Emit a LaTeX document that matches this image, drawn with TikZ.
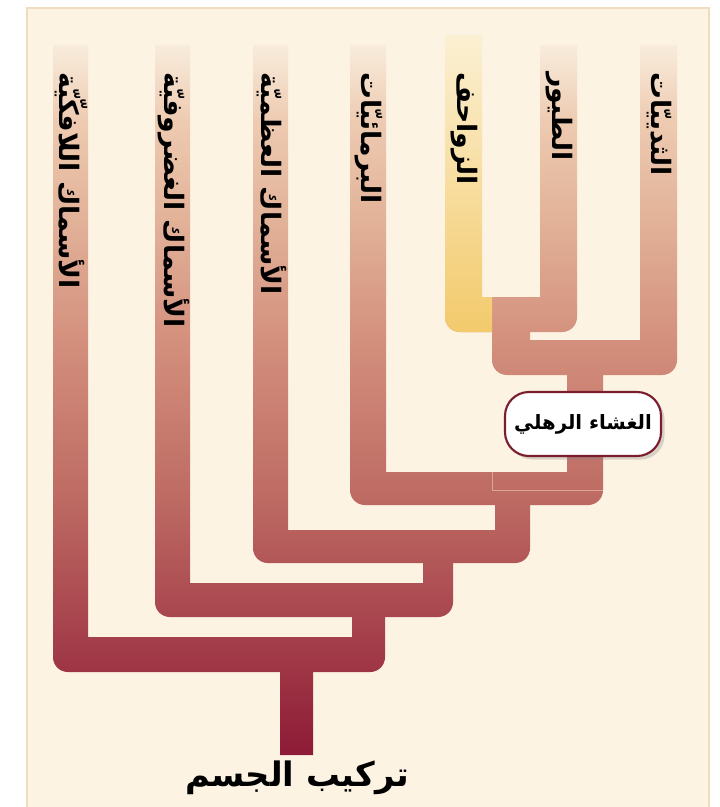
\documentclass[tikz,border=0pt]{standalone}
\usepackage{fontspec}
\newfontfamily\arabicfont[Script=Arabic]{DejaVu Sans}
\TeXXeTstate=1
\usetikzlibrary{shadows}

\definecolor{paper}{HTML}{FCF3E3}
\definecolor{paperrim}{HTML}{EFDDBE}
\definecolor{tipcol}{HTML}{F8ECDC}
\definecolor{tancol}{HTML}{EDCAB0}
\definecolor{sandcol}{HTML}{E4B79D}
\definecolor{rosecol}{HTML}{D28D7B}
\definecolor{brickcol}{HTML}{BD6A63}
\definecolor{wine}{HTML}{A8454E}
\definecolor{rootcol}{HTML}{8D1A36}
\definecolor{rim}{HTML}{7A1E2E}
\definecolor{faintcol}{HTML}{DCA598}
\definecolor{reptop}{HTML}{FBF0D3}
\definecolor{repmid}{HTML}{F7D98A}
\definecolor{repbot}{HTML}{F3CA6C}

\pgfdeclareverticalshading{treeshade}{100bp}{%
  color(0bp)=(rootcol); color(25bp)=(rootcol); color(34.5bp)=(wine);
  color(43bp)=(brickcol); color(53.5bp)=(rosecol); color(64bp)=(sandcol);
  color(69.5bp)=(tancol); color(75bp)=(tipcol); color(100bp)=(tipcol)}

\begin{document}
\begin{tikzpicture}[x=0.025cm,y=-0.025cm,
  lbl/.style={anchor=west,rotate=-90,inner sep=0pt,
    font=\arabicfont\bfseries\fontsize{19}{19}\selectfont},
  membrane/.style={draw=rim,line width=1.5pt,fill=white,rounded corners=0.6cm,
    minimum width=3.9cm,minimum height=1.6cm,inner sep=2pt,
    font=\arabicfont\bfseries\fontsize{14}{14}\selectfont,
    drop shadow={shadow xshift=2.5pt,shadow yshift=-2.5pt,opacity=0.3}},
  title/.style={inner sep=0pt,font=\arabicfont\bfseries\fontsize{24}{24}\selectfont}]
  \useasboundingbox (0,0) rectangle (719,807);
  \fill[white] (0,0) rectangle (719,807);
  \fill[paper,draw=paperrim,line width=2pt] (27,8) rectangle (709,812);

  % the tree, one shaded path
  \shade[shading=treeshade]
    (53,45) rectangle (88,655) (155,45) rectangle (190,600)
    (253,45) rectangle (288,548) (350,45) rectangle (386,490)
    (540,45) rectangle (577,315) (640,45) rectangle (677,358)
    (492,310) rectangle (530,358) (567,360) rectangle (603,490)
    (495,490) rectangle (530,548) (423,548) rectangle (453,600)
    (352,600) rectangle (385,655) (280,655) rectangle (313,755)
    {[rounded corners=0.37cm]
      (445,297) rectangle (577,332) (492,340) rectangle (677,375)
      (350,472) rectangle (603,505) (253,530) rectangle (530,563)
      (155,583) rectangle (453,617) (53,637) rectangle (385,672)};

  % reptiles
  \shade[top color=reptop,middle color=repmid,bottom color=repbot]
    (445,35) rectangle (482,320) (465,297) rectangle (492,332)
    {[rounded corners=0.37cm] (445,297) rectangle (492,332)};

  \draw[faintcol,line width=0.6pt] (492,472) -- (492,490) -- (603,490);

  \foreach \xc/\nm/\txt in {71.5/jawless/الأسماك اللافكّيّة,
      173.5/cartilage/الأسماك الغضروفيّة, 271.5/bony/الأسماك العظميّة,
      369/amphibians/البرمائيّات, 464.5/reptiles/الزواحف,
      559.5/birds/الطيور, 659.5/mammals/الثدييّات}
    \node[lbl] (\nm) at (\xc,72) {\beginR\txt\endR};

  \node[membrane] (amnion) at (583,424) {\beginR الغشاء الرهلي\endR};
  \node[title] (body) at (297,778) {\beginR تركيب الجسم\endR};
\end{tikzpicture}
\end{document}
